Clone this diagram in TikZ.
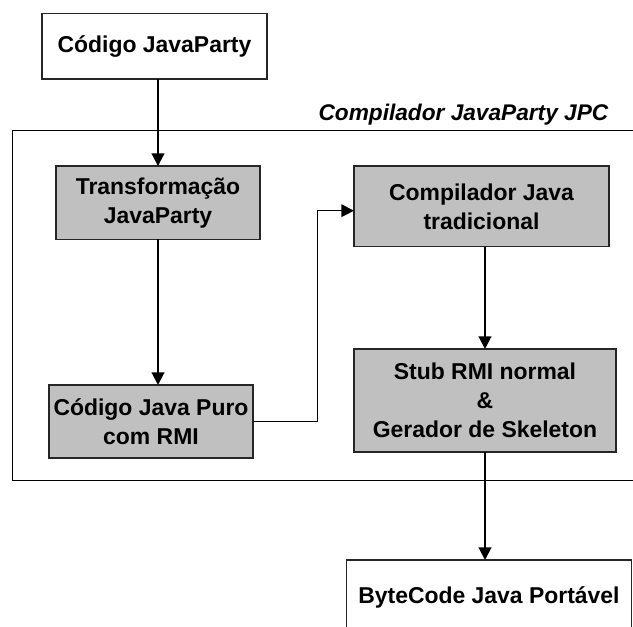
\documentclass[tikz,border=0pt]{standalone}
\usepackage{fontspec}
\setmainfont{Liberation Sans}
\usetikzlibrary{arrows.meta}
\definecolor{boxgray}{RGB}{192,192,192}
\tikzset{
  plainbox/.style={draw=black!85, line width=1.1pt, fill=white, inner sep=0pt, outer sep=0pt,
    align=center, font=\fontsize{17.2}{21.75}\selectfont\bfseries},
  graybox/.style={plainbox, fill=boxgray},
  flow/.style={line width=1.5pt, -{Triangle[length=9.5pt,width=9.5pt]}},
  link/.style={line width=1pt, -{Triangle[length=9.5pt,width=9.5pt]}},
}
\begin{document}
\begin{tikzpicture}[x=0.75pt,y=0.75pt,yscale=-1,xscale=1]
        \useasboundingbox (0,0) rectangle (633,626);
        \clip (0,0) rectangle (633,626);
        %Frame of the compiler
        \draw [line width=0.75pt]  (640,130.7) -- (12.7,130.7) -- (12.7,480) -- (640,480) ;
        % Text Node
        \node (jpc) [anchor=base east, font=\fontsize{17}{20}\selectfont\bfseries\itshape] at (613,120) {Compilador JavaParty JPC};

        % Boxes
        \node (cjp) [plainbox, minimum width=169pt, minimum height=49.3pt] at (154.5,46.2) {Código JavaParty};
        \node (tjp) [graybox, minimum width=153pt, minimum height=55pt] at (158,202.7) {Transformação\\JavaParty};
        \node (cjt) [graybox, minimum width=191.25pt, minimum height=60.5pt] at (481.5,206.3) {Compilador Java\\tradicional};
        \node (cjpr) [graybox, minimum width=153pt, minimum height=54.75pt] at (151,421.5) {Código Java Puro\\com RMI};
        \node (stub) [graybox, minimum width=196.5pt, minimum height=77.25pt] at (485,400.5) {Stub RMI normal\\\&\\Gerador de Skeleton};
        \node (bcj) [plainbox, minimum width=213.75pt, minimum height=55.5pt] at (489,597) {ByteCode Java Portável};

        % Arrows
        \draw [flow]  (tjp.north |- cjp.south) -- (tjp.north) ;
        \draw [flow]  (tjp.south) -- (tjp.south |- cjpr.north) ;
        \coordinate (turn) at (317.7,210.7);
        \draw [link]  (cjpr.east) -| (turn) -- (turn -| cjt.west) ;
        \draw [flow]  (stub.north |- cjt.south) -- (stub.north) ;
        \draw [flow]  (stub.south) -- (stub.south |- bcj.north) ;
\end{tikzpicture}
\end{document}
